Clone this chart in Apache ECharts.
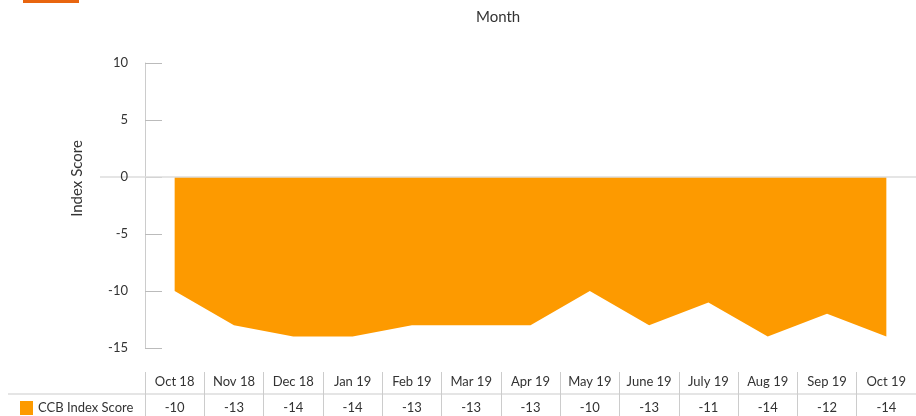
<!DOCTYPE html>
<html><head><meta charset="utf-8">
<script src="https://cdn.jsdelivr.net/npm/echarts@6/dist/echarts.min.js"></script>
<style>html,body{margin:0;padding:0;background:#fff}#c{width:916px;height:416px}</style>
</head><body><div id="c"></div>
<script>
const categories = ['Oct 18','Nov 18','Dec 18','Jan 19','Feb 19','Mar 19','Apr 19','May 19','June 19','July 19','Aug 19','Sep 19','Oct 19'];
const seriesName = 'CCB Index Score';
const ccbValues = [-10,-13,-14,-14,-13,-13,-13,-10,-13,-11,-14,-12,-14];
const yTicks = [-15,-10,-5,0,5,10];

const chart = echarts.init(document.getElementById('c'), null, {renderer:'canvas'});
const font = 'Lato, "Noto Sans", sans-serif';
const orange = '#FD9A00';
chart.setOption({
  animation:false,
  textStyle:{fontFamily:font},
  title:{text:'Month', left:476, top:10, padding:0,
    textStyle:{fontSize:15, fontWeight:'normal', color:'#333', fontFamily:font}},
  legend:{left:20, top:401, padding:0, itemWidth:13, itemHeight:14, icon:'rect', itemGap:8,
    textStyle:{fontSize:13, color:'#333', fontFamily:font}, data:[seriesName]},
  grid:{left:145, right:-3, top:63, bottom:68},
  xAxis:[{
    type:'category', data:categories, boundaryGap:true, position:'bottom', offset:24,
    axisLine:{show:false, onZero:false},
    axisTick:{show:true, length:44, lineStyle:{color:'#ccc'}},
    axisLabel:{margin:3, fontSize:13, color:'#333', fontFamily:font}
  },{
    type:'category', data:ccbValues.map(String), boundaryGap:true, position:'bottom', offset:50,
    axisLine:{show:false, onZero:false}, axisTick:{show:false},
    axisLabel:{margin:3, fontSize:13, color:'#333', fontFamily:font}
  }],
  yAxis:{type:'value', min:yTicks[0], max:yTicks[yTicks.length-1], interval:5,
    name:'Index Score', nameLocation:'middle', nameGap:60, nameRotate:90,
    nameTextStyle:{fontSize:15, color:'#333', fontFamily:font, padding:[0,0,0,54]},
    axisLine:{show:true, lineStyle:{color:'#ccc'}},
    axisTick:{show:true, inside:true, length:17, lineStyle:{color:'#bbb'}},
    axisLabel:{margin:17, fontSize:13, color:'#333', fontFamily:font},
    splitLine:{show:false}},
  series:[{
    name:seriesName, type:'line', data:ccbValues, symbol:'none',
    lineStyle:{width:0}, itemStyle:{color:orange},
    areaStyle:{color:orange, opacity:1},
    markLine:{silent:true, symbol:'none', label:{show:false},
      lineStyle:{color:'#ddd', type:'solid', width:1.5}, data:[{yAxis:0}]}
  }]
});
function decorate(){
  const y0 = chart.convertToPixel({yAxisIndex:0}, 0);
  const yTable = chart.convertToPixel({yAxisIndex:0}, yTicks[0]) + 46;
  chart.setOption({graphic:[
    {type:'line', shape:{x1:100,y1:y0,x2:145,y2:y0}, style:{stroke:'#ddd', lineWidth:1.5}},
    {type:'line', shape:{x1:8,y1:yTable,x2:916,y2:yTable}, style:{stroke:'#ddd', lineWidth:1.5}},
    {type:'rect', shape:{x:23,y:0,width:56,height:3}, style:{fill:'#E8650F'}}
  ]});
}
decorate();
</script></body></html>
